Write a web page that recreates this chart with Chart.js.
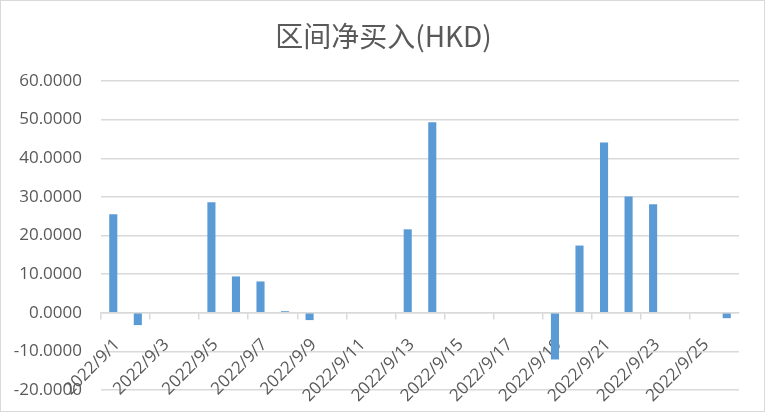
<!DOCTYPE html>
<html>
<head>
<meta charset="utf-8">
<script src="https://cdn.jsdelivr.net/npm/chart.js@4.4.0/dist/chart.umd.min.js"></script>
<style>
  html, body { margin: 0; padding: 0; background: #fff; }
  #wrap { width: 765px; height: 412px; }
</style>
</head>
<body>
<div id="wrap"><canvas id="chart" width="765" height="412"></canvas></div>
<script>
const dates = ['2022/9/1', '2022/9/2', '2022/9/3', '2022/9/4', '2022/9/5', '2022/9/6', '2022/9/7',
    '2022/9/8', '2022/9/9', '2022/9/10', '2022/9/11', '2022/9/12', '2022/9/13', '2022/9/14',
    '2022/9/15', '2022/9/16', '2022/9/17', '2022/9/18', '2022/9/19', '2022/9/20', '2022/9/21',
    '2022/9/22', '2022/9/23', '2022/9/24', '2022/9/25', '2022/9/26'];
const netBuy = [25.5, -3.2, 0, 0, 28.6, 9.4, 8.1, 0.4, -1.9, 0, 0, 0, 21.6, 49.3,
    0, 0, 0, 0, -12.1, 17.4, 44.1, 30.1, 28.1, 0, 0, -1.4];
const yTicks = [-20, -10, 0, 10, 20, 30, 40, 50, 60];
const chartTitle = '区间净买入(HKD)';

const gridGray = '#d9d9d9';
const textGray = '#595959';

// white background, thin frame and the centred title
const frame = {
    id: 'frame',
    beforeDraw(chart) {
        const c = chart.ctx;
        c.save();
        c.fillStyle = '#fff';
        c.fillRect(0, 0, chart.width, chart.height);
        c.strokeStyle = gridGray;
        c.lineWidth = 1;
        c.strokeRect(0.5, 0.5, chart.width - 1, chart.height - 1);
        c.fillStyle = textGray;
        c.font = '28px "Noto Sans CJK SC", "Noto Sans"';
        c.textAlign = 'center';
        c.textBaseline = 'middle';
        c.fillText(chartTitle, chart.width / 2 + 1, 36);
        c.restore();
    }
};

new Chart(document.getElementById('chart').getContext('2d'), {
    type: 'bar',
    data: {
        labels: dates,
        datasets: [{
            label: chartTitle,
            data: netBuy,
            backgroundColor: '#5b9bd5',
            categoryPercentage: 1,
            barPercentage: 0.33
        }]
    },
    options: {
        responsive: false,
        animation: false,
        layout: { padding: { left: 0, right: 26, top: 81, bottom: 22 } },
        plugins: {
            legend: { display: false },
            tooltip: { enabled: false },
            title: { display: false }
        },
        scales: {
            x: {
                position: { y: 0 },
                offset: true,
                // axis sits on the zero line, so it should take no room at the bottom
                afterFit: axis => { axis.height = 0; },
                grid: {
                    offset: true,
                    drawOnChartArea: false,
                    drawTicks: true,
                    tickLength: 6,
                    lineWidth: 1.5,
                    color: ctx => ctx.index % 2 === 0 ? gridGray : 'rgba(0,0,0,0)'
                },
                border: { display: true, color: gridGray, width: 1.5 },
                ticks: {
                    autoSkip: false,
                    minRotation: 45,
                    maxRotation: 45,
                    padding: 16,
                    labelOffset: 4,
                    color: textGray,
                    font: { family: '"Open Sans"', size: 17 },
                    callback: (v, i) => i % 2 === 0 ? dates[i] : ''
                }
            },
            y: {
                min: -20,
                max: 60,
                afterBuildTicks: axis => { axis.ticks = yTicks.map(v => ({ value: v })); },
                afterFit: axis => { axis.width = 101; },
                // invisible tick marks give the gap between labels and grid
                grid: { color: gridGray, lineWidth: 1.5, drawTicks: true, tickLength: 17, tickColor: 'rgba(0,0,0,0)' },
                border: { display: false },
                ticks: {
                    padding: 2,
                    color: textGray,
                    font: { family: '"Open Sans"', size: 17 },
                    callback: v => v.toFixed(4)
                }
            }
        }
    },
    plugins: [frame]
});
</script>
</body>
</html>
